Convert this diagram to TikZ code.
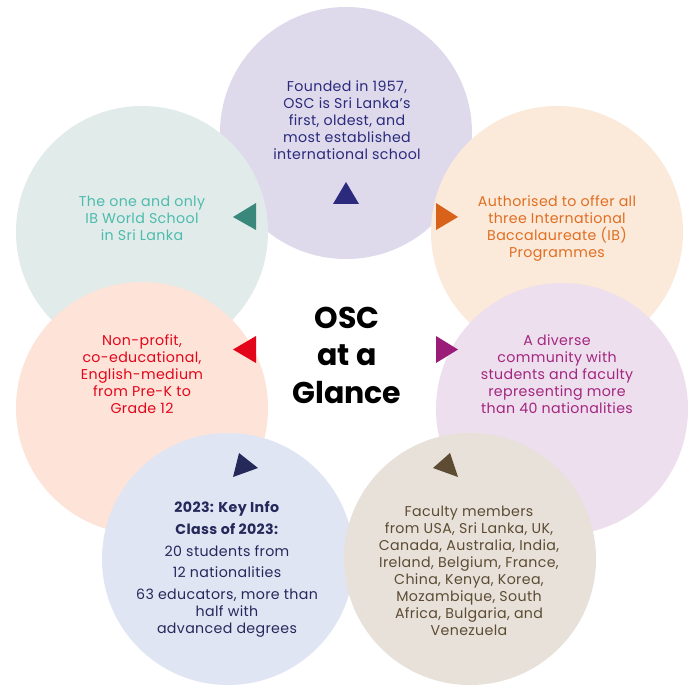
\documentclass[tikz,border=0pt]{standalone}
\usepackage{fontspec}
\setmainfont{Poppins}
\newfontfamily\bodyfont[LetterSpace=2.5]{Poppins}
\definecolor{cPurpleBg}{HTML}{DEDAEC}
\definecolor{cPurpleTx}{HTML}{2B2A7C}
\definecolor{cTealBg}{HTML}{E1EBEA}
\definecolor{cTealTx}{HTML}{4CBCAD}
\definecolor{cTealTri}{HTML}{3A877C}
\definecolor{cPeachBg}{HTML}{FBE9DA}
\definecolor{cPeachTx}{HTML}{E06F22}
\definecolor{cPeachTri}{HTML}{D9621A}
\definecolor{cSalmonBg}{HTML}{FDE3D8}
\definecolor{cSalmonTx}{HTML}{E3061B}
\definecolor{cLilacBg}{HTML}{EDDFEE}
\definecolor{cLilacTx}{HTML}{A3267F}
\definecolor{cLilacTri}{HTML}{9B1B78}
\definecolor{cBlueBg}{HTML}{E0E5F4}
\definecolor{cBlueTx}{HTML}{25295A}
\definecolor{cBeigeBg}{HTML}{E7E1DA}
\definecolor{cBeigeTx}{HTML}{5D4C33}
\begin{document}
\begin{tikzpicture}[x=1pt,y=-1pt,
  bubble/.style={circle,minimum size=252pt,inner sep=0pt,draw=none},
  body/.style={align=center,inner sep=0pt,font=\bodyfont\fontsize{14.2}{17}\selectfont},
  bodyb/.style={align=center,inner sep=0pt,font=\bodyfont\fontsize{14.2}{21.7}\selectfont},
  title/.style={align=center,inner sep=0pt,font=\fontsize{30}{37.5}\selectfont\bfseries}]
\useasboundingbox (0,0) rectangle (700,700);
\fill[white] (0,0) rectangle (700,700);
% circles
\node[bubble,fill=cPurpleBg] (cTop) at (346,133) {};
\node[bubble,fill=cTealBg] (cTL) at (142,232) {};
\node[bubble,fill=cPeachBg] (cTR) at (557,232) {};
\node[bubble,fill=cSalmonBg] (cML) at (142,408) {};
\node[bubble,fill=cLilacBg] (cMR) at (562,409) {};
\node[bubble,fill=cBlueBg] (cBL) at (228,559) {};
\node[bubble,fill=cBeigeBg] (cBR) at (470,559) {};
% triangles
\fill[cPurpleTx] (346,182) -- (333,204) -- (359,204) -- cycle;
\fill[cTealTri] (233,217) -- (256,203) -- (256,230) -- cycle;
\fill[cPeachTri] (458,217) -- (436,203) -- (436,230) -- cycle;
\fill[cSalmonTx] (233,349.5) -- (256,336) -- (256,363) -- cycle;
\fill[cLilacTri] (458,349.5) -- (436,336) -- (436,363) -- cycle;
\fill[cBlueTx] (239,453) -- (258,468) -- (233,477) -- cycle;
\fill[cBeigeTx] (450,453) -- (433,468) -- (458,477) -- cycle;
% texts
\node[body,text=cPurpleTx] (tTop) at (347,120) {Founded in 1957,\\OSC is Sri Lanka’s\\first, oldest, and\\most established\\international school};
\node[body,text=cTealTx] (tTL) at (142,218) {The one and only\\IB World School\\in Sri Lanka};
\node[body,text=cPeachTx] (tTR) at (557,228.5) {Authorised to offer all\\three International\\Baccalaureate (IB)\\Programmes};
\node[body,text=cSalmonTx] (tML) at (142,374) {Non-profit,\\co-educational,\\English-medium\\from Pre-K to\\Grade 12};
\node[body,text=cLilacTx] (tMR) at (557,374) {A diverse\\community with\\students and faculty\\representing more\\than 40 nationalities};
\node[bodyb,text=cBlueTx] (tBLa) at (227,539.7) {\textbf{2023: Key Info}\\\textbf{Class of 2023:}\\20 students from\\12 nationalities};
\node[body,text=cBlueTx] (tBLb) at (227,613) {63 educators, more than\\half with\\advanced degrees};
\node[body,text=cBeigeTx] (tBR) at (469,570.5) {Faculty members\\from USA, Sri Lanka, UK,\\Canada, Australia, India,\\Ireland, Belgium, France,\\China, Kenya, Korea,\\Mozambique, South\\Africa, Bulgaria, and\\Venezuela};
\node[title,text=black] (tC) at (347,355) {OSC\\at a\\Glance};
\end{tikzpicture}
\end{document}
